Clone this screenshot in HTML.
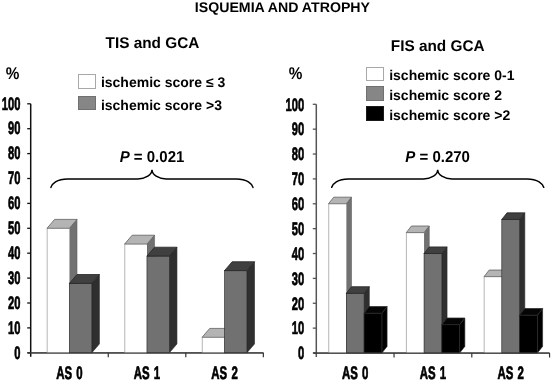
<!DOCTYPE html>
<html><head><meta charset="utf-8"><title>Ischemia and atrophy</title><style>
html,body{margin:0;padding:0;background:#fff;}
svg{display:block;will-change:transform;}
text{font-family:"Liberation Sans", sans-serif;font-weight:bold;fill:#000;text-rendering:geometricPrecision;}
.yl{font-size:18px;stroke:#000;stroke-width:0.7px;}
.xl{font-size:18px;stroke:#000;stroke-width:0.7px;word-spacing:1.6px;}
.lg{font-size:14px;}
.t0{font-size:14px;}
.t1{font-size:15.5px;}
.pc{font-size:17px;}
.pv{font-size:15.8px;}
</style></head>
<body><svg width="552" height="381" viewBox="0 0 552 381">
<rect width="552" height="381" fill="#fff"/>
<line x1="30.7" y1="103.8" x2="30.7" y2="356.8" stroke="#111" stroke-width="1.5"/>
<line x1="27.2" y1="352.8" x2="30.7" y2="352.8" stroke="#111" stroke-width="1.3"/>
<text x="0" y="0" transform="translate(20.5,358.5) scale(0.62,1)" text-anchor="end" class="yl">0</text>
<line x1="27.2" y1="327.9" x2="30.7" y2="327.9" stroke="#111" stroke-width="1.3"/>
<text x="0" y="0" transform="translate(20.5,333.6) scale(0.62,1)" text-anchor="end" class="yl">10</text>
<line x1="27.2" y1="303" x2="30.7" y2="303" stroke="#111" stroke-width="1.3"/>
<text x="0" y="0" transform="translate(20.5,308.7) scale(0.62,1)" text-anchor="end" class="yl">20</text>
<line x1="27.2" y1="278.1" x2="30.7" y2="278.1" stroke="#111" stroke-width="1.3"/>
<text x="0" y="0" transform="translate(20.5,283.8) scale(0.62,1)" text-anchor="end" class="yl">30</text>
<line x1="27.2" y1="253.2" x2="30.7" y2="253.2" stroke="#111" stroke-width="1.3"/>
<text x="0" y="0" transform="translate(20.5,258.9) scale(0.62,1)" text-anchor="end" class="yl">40</text>
<line x1="27.2" y1="228.3" x2="30.7" y2="228.3" stroke="#111" stroke-width="1.3"/>
<text x="0" y="0" transform="translate(20.5,234) scale(0.62,1)" text-anchor="end" class="yl">50</text>
<line x1="27.2" y1="203.4" x2="30.7" y2="203.4" stroke="#111" stroke-width="1.3"/>
<text x="0" y="0" transform="translate(20.5,209.1) scale(0.62,1)" text-anchor="end" class="yl">60</text>
<line x1="27.2" y1="178.5" x2="30.7" y2="178.5" stroke="#111" stroke-width="1.3"/>
<text x="0" y="0" transform="translate(20.5,184.2) scale(0.62,1)" text-anchor="end" class="yl">70</text>
<line x1="27.2" y1="153.6" x2="30.7" y2="153.6" stroke="#111" stroke-width="1.3"/>
<text x="0" y="0" transform="translate(20.5,159.3) scale(0.62,1)" text-anchor="end" class="yl">80</text>
<line x1="27.2" y1="128.7" x2="30.7" y2="128.7" stroke="#111" stroke-width="1.3"/>
<text x="0" y="0" transform="translate(20.5,134.4) scale(0.62,1)" text-anchor="end" class="yl">90</text>
<line x1="27.2" y1="103.8" x2="30.7" y2="103.8" stroke="#111" stroke-width="1.3"/>
<text x="0" y="0" transform="translate(20.5,109.5) scale(0.62,1)" text-anchor="end" class="yl">100</text>
<line x1="27.7" y1="352.8" x2="263.35" y2="352.8" stroke="#3a3a3a" stroke-width="1.2"/>
<line x1="108.25" y1="352.8" x2="108.25" y2="357.3" stroke="#333" stroke-width="1.2"/>
<line x1="185.8" y1="352.8" x2="185.8" y2="357.3" stroke="#333" stroke-width="1.2"/>
<line x1="263.35" y1="352.8" x2="263.35" y2="357.3" stroke="#333" stroke-width="1.2"/>
<polygon points="69.4,228.3 77,219.4 77,343.9 69.4,352.8" fill="#717171" stroke="#606060" stroke-width="0.6" stroke-linejoin="round"/>
<rect x="47" y="228.3" width="22.4" height="124.5" fill="#ffffff"/>
<line x1="47.2" y1="228.3" x2="47.2" y2="352.8" stroke="#bcbcbc" stroke-width="1.1"/>
<polygon points="47,228.3 54.6,219.4 77,219.4 69.4,228.3" fill="#b4b4b4" stroke="#606060" stroke-width="0.8" stroke-linejoin="round"/>
<polygon points="91.8,283.4 99.4,274.5 99.4,343.9 91.8,352.8" fill="#2f2f2f" stroke="#262626" stroke-width="0.6" stroke-linejoin="round"/>
<rect x="69.4" y="283.4" width="22.4" height="69.4" fill="#717171" stroke="#262626" stroke-width="0.6"/>
<polygon points="69.4,283.4 77,274.5 99.4,274.5 91.8,283.4" fill="#404040" stroke="#262626" stroke-width="0.8" stroke-linejoin="round"/>
<polygon points="146.95,244.11 154.55,235.21 154.55,343.9 146.95,352.8" fill="#717171" stroke="#606060" stroke-width="0.6" stroke-linejoin="round"/>
<rect x="124.55" y="244.11" width="22.4" height="108.69" fill="#ffffff"/>
<line x1="124.75" y1="244.11" x2="124.75" y2="352.8" stroke="#bcbcbc" stroke-width="1.1"/>
<polygon points="124.55,244.11 132.15,235.21 154.55,235.21 146.95,244.11" fill="#b4b4b4" stroke="#606060" stroke-width="0.8" stroke-linejoin="round"/>
<polygon points="169.35,256.09 176.95,247.19 176.95,343.9 169.35,352.8" fill="#2f2f2f" stroke="#262626" stroke-width="0.6" stroke-linejoin="round"/>
<rect x="146.95" y="256.09" width="22.4" height="96.71" fill="#717171" stroke="#262626" stroke-width="0.6"/>
<polygon points="146.95,256.09 154.55,247.19 176.95,247.19 169.35,256.09" fill="#404040" stroke="#262626" stroke-width="0.8" stroke-linejoin="round"/>
<polygon points="224.5,337.31 232.1,328.41 232.1,343.9 224.5,352.8" fill="#717171" stroke="#606060" stroke-width="0.6" stroke-linejoin="round"/>
<rect x="202.1" y="337.31" width="22.4" height="15.49" fill="#ffffff"/>
<line x1="202.3" y1="337.31" x2="202.3" y2="352.8" stroke="#bcbcbc" stroke-width="1.1"/>
<polygon points="202.1,337.31 209.7,328.41 232.1,328.41 224.5,337.31" fill="#b4b4b4" stroke="#606060" stroke-width="0.8" stroke-linejoin="round"/>
<polygon points="246.9,270.63 254.5,261.73 254.5,343.9 246.9,352.8" fill="#2f2f2f" stroke="#262626" stroke-width="0.6" stroke-linejoin="round"/>
<rect x="224.5" y="270.63" width="22.4" height="82.17" fill="#717171" stroke="#262626" stroke-width="0.6"/>
<polygon points="224.5,270.63 232.1,261.73 254.5,261.73 246.9,270.63" fill="#404040" stroke="#262626" stroke-width="0.8" stroke-linejoin="round"/>
<line x1="27.7" y1="353" x2="263.35" y2="353" stroke="#3a3a3a" stroke-width="1.2"/>
<text x="0" y="0" transform="translate(69.47,379.1) scale(0.635,1)" text-anchor="middle" class="xl">AS 0</text>
<text x="0" y="0" transform="translate(147.02,379.1) scale(0.635,1)" text-anchor="middle" class="xl">AS 1</text>
<text x="0" y="0" transform="translate(224.57,379.1) scale(0.635,1)" text-anchor="middle" class="xl">AS 2</text>
<line x1="316.3" y1="104.3" x2="316.3" y2="357" stroke="#555" stroke-width="1.5"/>
<line x1="312.8" y1="353" x2="316.3" y2="353" stroke="#555" stroke-width="1.3"/>
<text x="0" y="0" transform="translate(304.1,359.3) scale(0.62,1)" text-anchor="end" class="yl">0</text>
<line x1="312.8" y1="328.13" x2="316.3" y2="328.13" stroke="#555" stroke-width="1.3"/>
<text x="0" y="0" transform="translate(304.1,334.43) scale(0.62,1)" text-anchor="end" class="yl">10</text>
<line x1="312.8" y1="303.26" x2="316.3" y2="303.26" stroke="#555" stroke-width="1.3"/>
<text x="0" y="0" transform="translate(304.1,309.56) scale(0.62,1)" text-anchor="end" class="yl">20</text>
<line x1="312.8" y1="278.39" x2="316.3" y2="278.39" stroke="#555" stroke-width="1.3"/>
<text x="0" y="0" transform="translate(304.1,284.69) scale(0.62,1)" text-anchor="end" class="yl">30</text>
<line x1="312.8" y1="253.52" x2="316.3" y2="253.52" stroke="#555" stroke-width="1.3"/>
<text x="0" y="0" transform="translate(304.1,259.82) scale(0.62,1)" text-anchor="end" class="yl">40</text>
<line x1="312.8" y1="228.65" x2="316.3" y2="228.65" stroke="#555" stroke-width="1.3"/>
<text x="0" y="0" transform="translate(304.1,234.95) scale(0.62,1)" text-anchor="end" class="yl">50</text>
<line x1="312.8" y1="203.78" x2="316.3" y2="203.78" stroke="#555" stroke-width="1.3"/>
<text x="0" y="0" transform="translate(304.1,210.08) scale(0.62,1)" text-anchor="end" class="yl">60</text>
<line x1="312.8" y1="178.91" x2="316.3" y2="178.91" stroke="#555" stroke-width="1.3"/>
<text x="0" y="0" transform="translate(304.1,185.21) scale(0.62,1)" text-anchor="end" class="yl">70</text>
<line x1="312.8" y1="154.04" x2="316.3" y2="154.04" stroke="#555" stroke-width="1.3"/>
<text x="0" y="0" transform="translate(304.1,160.34) scale(0.62,1)" text-anchor="end" class="yl">80</text>
<line x1="312.8" y1="129.17" x2="316.3" y2="129.17" stroke="#555" stroke-width="1.3"/>
<text x="0" y="0" transform="translate(304.1,135.47) scale(0.62,1)" text-anchor="end" class="yl">90</text>
<line x1="312.8" y1="104.3" x2="316.3" y2="104.3" stroke="#555" stroke-width="1.3"/>
<text x="0" y="0" transform="translate(304.1,110.6) scale(0.62,1)" text-anchor="end" class="yl">100</text>
<line x1="313.3" y1="353" x2="549.55" y2="353" stroke="#3a3a3a" stroke-width="1.2"/>
<line x1="394.05" y1="353" x2="394.05" y2="357.5" stroke="#333" stroke-width="1.2"/>
<line x1="471.8" y1="353" x2="471.8" y2="357.5" stroke="#333" stroke-width="1.2"/>
<line x1="549.55" y1="353" x2="549.55" y2="357.5" stroke="#333" stroke-width="1.2"/>
<polygon points="346.3,203.78 351.5,197.18 351.5,346.4 346.3,353" fill="#717171" stroke="#606060" stroke-width="0.6" stroke-linejoin="round"/>
<rect x="328.5" y="203.78" width="17.8" height="149.22" fill="#ffffff"/>
<line x1="328.7" y1="203.78" x2="328.7" y2="353" stroke="#bcbcbc" stroke-width="1.1"/>
<polygon points="328.5,203.78 333.7,197.18 351.5,197.18 346.3,203.78" fill="#b4b4b4" stroke="#606060" stroke-width="0.8" stroke-linejoin="round"/>
<polygon points="364.1,293.31 369.3,286.71 369.3,346.4 364.1,353" fill="#2f2f2f" stroke="#262626" stroke-width="0.6" stroke-linejoin="round"/>
<rect x="346.3" y="293.31" width="17.8" height="59.69" fill="#717171" stroke="#262626" stroke-width="0.6"/>
<polygon points="346.3,293.31 351.5,286.71 369.3,286.71 364.1,293.31" fill="#404040" stroke="#262626" stroke-width="0.8" stroke-linejoin="round"/>
<polygon points="381.9,313.21 387.1,306.61 387.1,346.4 381.9,353" fill="#000000" stroke="#2a2a2a" stroke-width="0.6" stroke-linejoin="round"/>
<rect x="364.1" y="313.21" width="17.8" height="39.79" fill="#000000" stroke="#2a2a2a" stroke-width="0.6"/>
<polygon points="364.1,313.21 369.3,306.61 387.1,306.61 381.9,313.21" fill="#050505" stroke="#2a2a2a" stroke-width="0.8" stroke-linejoin="round"/>
<polygon points="424.05,232.63 429.25,226.03 429.25,346.4 424.05,353" fill="#717171" stroke="#606060" stroke-width="0.6" stroke-linejoin="round"/>
<rect x="406.25" y="232.63" width="17.8" height="120.37" fill="#ffffff"/>
<line x1="406.45" y1="232.63" x2="406.45" y2="353" stroke="#bcbcbc" stroke-width="1.1"/>
<polygon points="406.25,232.63 411.45,226.03 429.25,226.03 424.05,232.63" fill="#b4b4b4" stroke="#606060" stroke-width="0.8" stroke-linejoin="round"/>
<polygon points="441.85,253.52 447.05,246.92 447.05,346.4 441.85,353" fill="#2f2f2f" stroke="#262626" stroke-width="0.6" stroke-linejoin="round"/>
<rect x="424.05" y="253.52" width="17.8" height="99.48" fill="#717171" stroke="#262626" stroke-width="0.6"/>
<polygon points="424.05,253.52 429.25,246.92 447.05,246.92 441.85,253.52" fill="#404040" stroke="#262626" stroke-width="0.8" stroke-linejoin="round"/>
<polygon points="459.65,324.65 464.85,318.05 464.85,346.4 459.65,353" fill="#000000" stroke="#2a2a2a" stroke-width="0.6" stroke-linejoin="round"/>
<rect x="441.85" y="324.65" width="17.8" height="28.35" fill="#000000" stroke="#2a2a2a" stroke-width="0.6"/>
<polygon points="441.85,324.65 447.05,318.05 464.85,318.05 459.65,324.65" fill="#050505" stroke="#2a2a2a" stroke-width="0.8" stroke-linejoin="round"/>
<polygon points="501.8,276.65 507,270.05 507,346.4 501.8,353" fill="#717171" stroke="#606060" stroke-width="0.6" stroke-linejoin="round"/>
<rect x="484" y="276.65" width="17.8" height="76.35" fill="#ffffff"/>
<line x1="484.2" y1="276.65" x2="484.2" y2="353" stroke="#bcbcbc" stroke-width="1.1"/>
<polygon points="484,276.65 489.2,270.05 507,270.05 501.8,276.65" fill="#b4b4b4" stroke="#606060" stroke-width="0.8" stroke-linejoin="round"/>
<polygon points="519.6,219.45 524.8,212.85 524.8,346.4 519.6,353" fill="#2f2f2f" stroke="#262626" stroke-width="0.6" stroke-linejoin="round"/>
<rect x="501.8" y="219.45" width="17.8" height="133.55" fill="#717171" stroke="#262626" stroke-width="0.6"/>
<polygon points="501.8,219.45 507,212.85 524.8,212.85 519.6,219.45" fill="#404040" stroke="#262626" stroke-width="0.8" stroke-linejoin="round"/>
<polygon points="537.4,315.2 542.6,308.6 542.6,346.4 537.4,353" fill="#000000" stroke="#2a2a2a" stroke-width="0.6" stroke-linejoin="round"/>
<rect x="519.6" y="315.2" width="17.8" height="37.8" fill="#000000" stroke="#2a2a2a" stroke-width="0.6"/>
<polygon points="519.6,315.2 524.8,308.6 542.6,308.6 537.4,315.2" fill="#050505" stroke="#2a2a2a" stroke-width="0.8" stroke-linejoin="round"/>
<line x1="313.3" y1="353.2" x2="549.55" y2="353.2" stroke="#3a3a3a" stroke-width="1.2"/>
<text x="0" y="0" transform="translate(355.18,379.1) scale(0.635,1)" text-anchor="middle" class="xl">AS 0</text>
<text x="0" y="0" transform="translate(432.93,379.1) scale(0.635,1)" text-anchor="middle" class="xl">AS 1</text>
<text x="0" y="0" transform="translate(510.68,379.1) scale(0.635,1)" text-anchor="middle" class="xl">AS 2</text>
<path d="M50.9,187.4 C51.8,184 56.7,178.9 67.6,178.9 L137.8,178.9 A14.2,9.1 0 0 0 152,169.8 A14.2,9.1 0 0 0 166.2,178.9 L236.3,178.9 C247.2,178.9 252.1,184 253,187.4" fill="none" stroke="#000" stroke-width="1.5" stroke-linecap="round"/>
<path d="M331.7,187.3 C332.6,183.9 337.5,178.9 348.4,178.9 L423.5,178.9 A14.2,9.1 0 0 0 437.7,169.8 A14.2,9.1 0 0 0 451.9,178.9 L527,178.9 C537.9,178.9 542.8,183.9 543.7,187.3" fill="none" stroke="#000" stroke-width="1.5" stroke-linecap="round"/>
<rect x="78.5" y="74.5" width="17" height="14" fill="#fff" stroke="#a8a8a8" stroke-width="1"/><text x="100.9" y="87.2" class="lg">ischemic score ≤ 3</text>
<rect x="78.5" y="96.5" width="17" height="13" fill="#868686" stroke="#707070" stroke-width="1"/><text x="100.9" y="109.5" class="lg">ischemic score &gt;3</text>
<rect x="366.5" y="67.5" width="17" height="13" fill="#fff" stroke="#a8a8a8" stroke-width="1"/><text x="389.2" y="80.3" class="lg">ischemic score 0-1</text>
<rect x="366.5" y="86.5" width="17" height="14" fill="#868686" stroke="#707070" stroke-width="1"/><text x="389.2" y="100" class="lg">ischemic score 2</text>
<rect x="366.5" y="106.5" width="17" height="14" fill="#000" stroke="#1a1a1a" stroke-width="1"/><text x="389.2" y="119.8" class="lg">ischemic score &gt;2</text>
<text x="0" y="0" transform="translate(282.4,11.9) scale(1.012,1)" text-anchor="middle" class="t0">ISQUEMIA AND ATROPHY</text>
<text x="0" y="0" transform="translate(152.4,47.7) scale(0.99,1)" text-anchor="middle" class="t1">TIS and GCA</text>
<text x="0" y="0" transform="translate(437.7,51.2) scale(0.99,1)" text-anchor="middle" class="t1">FIS and GCA</text>
<text x="0" y="0" transform="translate(12.6,78.8) scale(0.9,1)" text-anchor="middle" class="pc">%</text>
<text x="0" y="0" transform="translate(295.5,79) scale(0.9,1)" text-anchor="middle" class="pc">%</text>
<text x="0" y="0" transform="translate(152,162.1) scale(0.95,1)" text-anchor="middle" class="pv"><tspan font-style="italic">P</tspan> = 0.021</text>
<text x="0" y="0" transform="translate(437.6,162.1) scale(0.95,1)" text-anchor="middle" class="pv"><tspan font-style="italic">P</tspan> = 0.270</text>
</svg></body></html>
